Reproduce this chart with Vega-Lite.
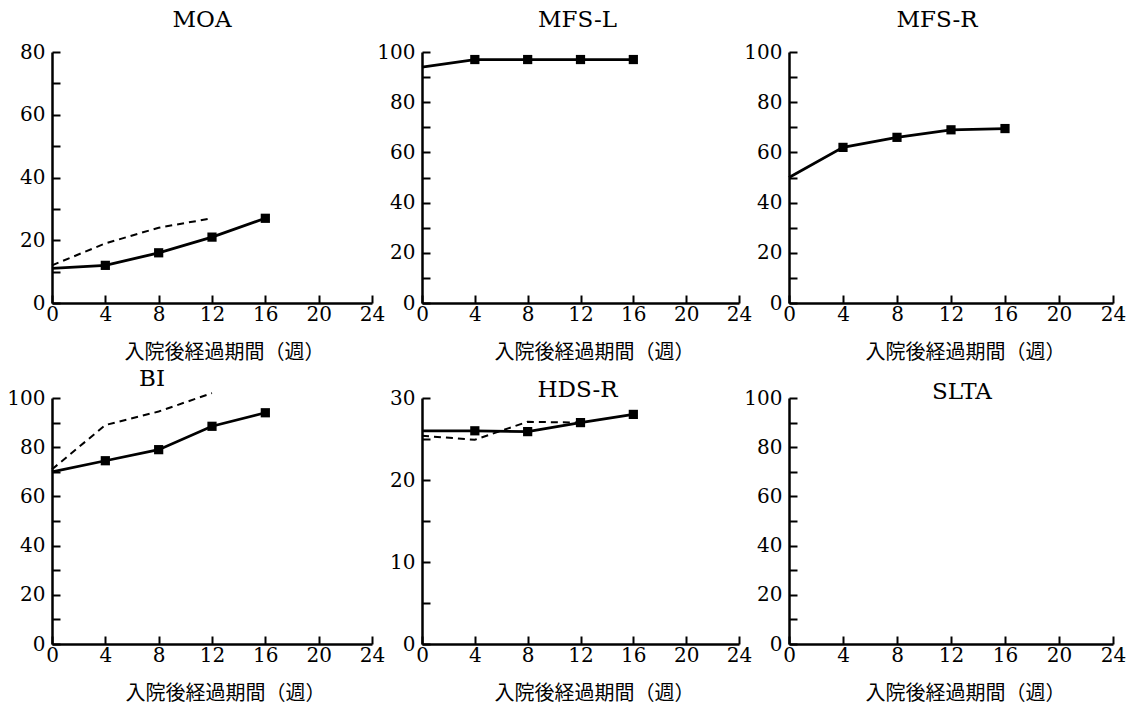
{
  "$schema": "https://vega.github.io/schema/vega-lite/v6.json",
  "background": "white",
  "padding": {"left": 6, "top": 9, "right": 5, "bottom": 5},
  "bounds": "flush",
  "columns": 3,
  "spacing": {"row": 95, "column": 50},
  "datasets": {
    "scores": [
      {"panel": "MOA", "series": "case", "week": 0, "value": 11},
      {"panel": "MOA", "series": "case", "week": 4, "value": 12},
      {"panel": "MOA", "series": "case", "week": 8, "value": 16},
      {"panel": "MOA", "series": "case", "week": 12, "value": 21},
      {"panel": "MOA", "series": "case", "week": 16, "value": 27},
      {"panel": "MOA", "series": "reference", "week": 0, "value": 12},
      {"panel": "MOA", "series": "reference", "week": 4, "value": 19},
      {"panel": "MOA", "series": "reference", "week": 8, "value": 24},
      {"panel": "MOA", "series": "reference", "week": 12, "value": 27},
      {"panel": "MFS-L", "series": "case", "week": 0, "value": 94},
      {"panel": "MFS-L", "series": "case", "week": 4, "value": 97},
      {"panel": "MFS-L", "series": "case", "week": 8, "value": 97},
      {"panel": "MFS-L", "series": "case", "week": 12, "value": 97},
      {"panel": "MFS-L", "series": "case", "week": 16, "value": 97},
      {"panel": "MFS-R", "series": "case", "week": 0, "value": 50},
      {"panel": "MFS-R", "series": "case", "week": 4, "value": 62},
      {"panel": "MFS-R", "series": "case", "week": 8, "value": 66},
      {"panel": "MFS-R", "series": "case", "week": 12, "value": 69},
      {"panel": "MFS-R", "series": "case", "week": 16, "value": 69.5},
      {"panel": "BI", "series": "case", "week": 0, "value": 70},
      {"panel": "BI", "series": "case", "week": 4, "value": 74.5},
      {"panel": "BI", "series": "case", "week": 8, "value": 79},
      {"panel": "BI", "series": "case", "week": 12, "value": 88.5},
      {"panel": "BI", "series": "case", "week": 16, "value": 94},
      {"panel": "BI", "series": "reference", "week": 0, "value": 71},
      {"panel": "BI", "series": "reference", "week": 4, "value": 89},
      {"panel": "BI", "series": "reference", "week": 8, "value": 94.5},
      {"panel": "BI", "series": "reference", "week": 12, "value": 102},
      {"panel": "HDS-R", "series": "case", "week": 0, "value": 26},
      {"panel": "HDS-R", "series": "case", "week": 4, "value": 26},
      {"panel": "HDS-R", "series": "case", "week": 8, "value": 25.9},
      {"panel": "HDS-R", "series": "case", "week": 12, "value": 27},
      {"panel": "HDS-R", "series": "case", "week": 16, "value": 28},
      {"panel": "HDS-R", "series": "reference", "week": 0, "value": 25.4},
      {"panel": "HDS-R", "series": "reference", "week": 4, "value": 24.9},
      {"panel": "HDS-R", "series": "reference", "week": 8, "value": 27.1},
      {"panel": "HDS-R", "series": "reference", "week": 12, "value": 27}
    ]
  },
  "config": {
    "view": {"stroke": null},
    "axis": {
      "grid": false,
      "domainColor": "black",
      "domainWidth": 2.5,
      "tickColor": "black",
      "tickWidth": 2,
      "tickSize": -8,
      "labelFont": "DejaVu Serif",
      "labelFontSize": 20,
      "labelColor": "black",
      "labelFlush": false,
      "labelOverlap": false,
      "titleFont": "Noto Sans CJK JP",
      "titleFontSize": 20,
      "titleFontWeight": "normal",
      "titleColor": "black"
    },
    "axisX": {"labelPadding": 9, "titlePadding": 18},
    "axisY": {"labelPadding": 15},
    "title": {
      "font": "DejaVu Serif",
      "fontSize": 23,
      "fontWeight": "normal",
      "color": "black",
      "frame": "group",
      "anchor": "middle"
    }
  },
  "concat": [
    {
      "width": 320, "height": 251,
      "title": {"text": "MOA", "offset": 10, "dx": -10},
      "data": {"name": "scores"},
      "transform": [{"filter": "datum.panel === 'MOA'"}],
      "encoding": {
        "x": {"field": "week", "type": "quantitative", "scale": {"domain": [0, 24], "nice": false}, "axis": {"values": [0, 4, 8, 12, 16, 20, 24], "title": "入院後経過期間（週）", "titleX": 172}},
        "y": {"field": "value", "type": "quantitative", "scale": {"domain": [0, 80], "nice": false}, "axis": {"values": [0, 10, 20, 30, 40, 50, 60, 70, 80], "labelExpr": "datum.value % 20 === 0 ? datum.label : ''", "title": null}}
      },
      "layer": [
        {"transform": [{"filter": "datum.series === 'reference'"}], "mark": {"type": "line", "color": "black", "strokeWidth": 2, "strokeDash": [7, 5]}},
        {"transform": [{"filter": "datum.series === 'case'"}], "mark": {"type": "line", "color": "black", "strokeWidth": 2.75}},
        {"transform": [{"filter": "datum.series === 'case' && datum.week > 0"}], "mark": {"type": "point", "shape": "square", "filled": true, "size": 85, "color": "black", "opacity": 1}}
      ]
    },
    {
      "width": 317, "height": 251,
      "title": {"text": "MFS-L", "offset": 10, "dx": -3},
      "data": {"name": "scores"},
      "transform": [{"filter": "datum.panel === 'MFS-L'"}],
      "encoding": {
        "x": {"field": "week", "type": "quantitative", "scale": {"domain": [0, 24], "nice": false}, "axis": {"values": [0, 4, 8, 12, 16, 20, 24], "title": "入院後経過期間（週）", "titleX": 172}},
        "y": {"field": "value", "type": "quantitative", "scale": {"domain": [0, 100], "nice": false}, "axis": {"values": [0, 10, 20, 30, 40, 50, 60, 70, 80, 90, 100], "labelExpr": "datum.value % 20 === 0 ? datum.label : ''", "title": null}}
      },
      "layer": [
        {"transform": [{"filter": "datum.series === 'case'"}], "mark": {"type": "line", "color": "black", "strokeWidth": 2.75}},
        {"transform": [{"filter": "datum.series === 'case' && datum.week > 0"}], "mark": {"type": "point", "shape": "square", "filled": true, "size": 85, "color": "black", "opacity": 1}}
      ]
    },
    {
      "width": 324, "height": 251,
      "title": {"text": "MFS-R", "offset": 10, "dx": -14},
      "data": {"name": "scores"},
      "transform": [{"filter": "datum.panel === 'MFS-R'"}],
      "encoding": {
        "x": {"field": "week", "type": "quantitative", "scale": {"domain": [0, 24], "nice": false}, "axis": {"values": [0, 4, 8, 12, 16, 20, 24], "title": "入院後経過期間（週）", "titleX": 176}},
        "y": {"field": "value", "type": "quantitative", "scale": {"domain": [0, 100], "nice": false}, "axis": {"values": [0, 10, 20, 30, 40, 50, 60, 70, 80, 90, 100], "labelExpr": "datum.value % 20 === 0 ? datum.label : ''", "title": null}}
      },
      "layer": [
        {"transform": [{"filter": "datum.series === 'case'"}], "mark": {"type": "line", "color": "black", "strokeWidth": 2.75}},
        {"transform": [{"filter": "datum.series === 'case' && datum.week > 0"}], "mark": {"type": "point", "shape": "square", "filled": true, "size": 85, "color": "black", "opacity": 1}}
      ]
    },
    {
      "width": 320, "height": 246,
      "title": {"text": "BI", "offset": -3, "dx": -60},
      "data": {"name": "scores"},
      "transform": [{"filter": "datum.panel === 'BI'"}],
      "encoding": {
        "x": {"field": "week", "type": "quantitative", "scale": {"domain": [0, 24], "nice": false}, "axis": {"values": [0, 4, 8, 12, 16, 20, 24], "title": "入院後経過期間（週）", "titleX": 173}},
        "y": {"field": "value", "type": "quantitative", "scale": {"domain": [0, 100], "nice": false}, "axis": {"values": [0, 10, 20, 30, 40, 50, 60, 70, 80, 90, 100], "labelExpr": "datum.value % 20 === 0 ? datum.label : ''", "title": null}}
      },
      "layer": [
        {"transform": [{"filter": "datum.series === 'reference'"}], "mark": {"type": "line", "color": "black", "strokeWidth": 2, "strokeDash": [7, 5]}},
        {"transform": [{"filter": "datum.series === 'case'"}], "mark": {"type": "line", "color": "black", "strokeWidth": 2.75}},
        {"transform": [{"filter": "datum.series === 'case' && datum.week > 0"}], "mark": {"type": "point", "shape": "square", "filled": true, "size": 85, "color": "black", "opacity": 1}}
      ]
    },
    {
      "width": 317, "height": 246,
      "title": {"text": "HDS-R", "offset": -14, "dx": -3},
      "data": {"name": "scores"},
      "transform": [{"filter": "datum.panel === 'HDS-R'"}],
      "encoding": {
        "x": {"field": "week", "type": "quantitative", "scale": {"domain": [0, 24], "nice": false}, "axis": {"values": [0, 4, 8, 12, 16, 20, 24], "title": "入院後経過期間（週）", "titleX": 172}},
        "y": {"field": "value", "type": "quantitative", "scale": {"domain": [0, 30], "nice": false}, "axis": {"values": [0, 5, 10, 15, 20, 25, 30], "labelExpr": "datum.value % 10 === 0 ? datum.label : ''", "title": null}}
      },
      "layer": [
        {"transform": [{"filter": "datum.series === 'reference'"}], "mark": {"type": "line", "color": "black", "strokeWidth": 2, "strokeDash": [7, 5]}},
        {"transform": [{"filter": "datum.series === 'case'"}], "mark": {"type": "line", "color": "black", "strokeWidth": 2.75}},
        {"transform": [{"filter": "datum.series === 'case' && datum.week > 0"}], "mark": {"type": "point", "shape": "square", "filled": true, "size": 85, "color": "black", "opacity": 1}}
      ]
    },
    {
      "width": 324, "height": 246,
      "title": {"text": "SLTA", "offset": -16, "dx": 11},
      "data": {"name": "scores"},
      "transform": [{"filter": "datum.panel === 'SLTA'"}],
      "encoding": {
        "x": {"field": "week", "type": "quantitative", "scale": {"domain": [0, 24], "nice": false}, "axis": {"values": [0, 4, 8, 12, 16, 20, 24], "title": "入院後経過期間（週）", "titleX": 176}},
        "y": {"field": "value", "type": "quantitative", "scale": {"domain": [0, 100], "nice": false}, "axis": {"values": [0, 10, 20, 30, 40, 50, 60, 70, 80, 90, 100], "labelExpr": "datum.value % 20 === 0 ? datum.label : ''", "title": null}}
      },
      "mark": {"type": "line", "color": "black", "strokeWidth": 2.75}
    }
  ]
}
